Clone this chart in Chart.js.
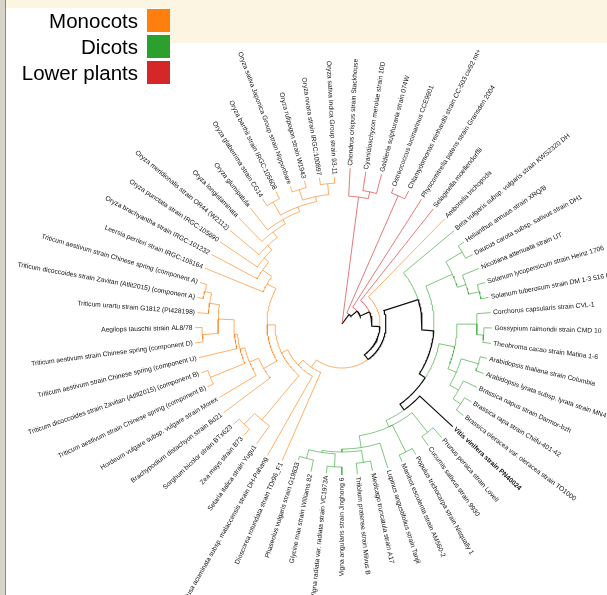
<!DOCTYPE html>
<html><head><meta charset="utf-8">
<script src="https://cdn.jsdelivr.net/npm/chart.js@4"></script>
<style>
html,body{margin:0;padding:0;background:#fff;width:607px;height:595px;overflow:hidden;position:relative}
#strip{position:absolute;left:0;top:0;width:5px;height:595px;background:#d7d5c9;border-right:1px solid #8c8b5e}
#band1{position:absolute;left:6px;top:0;width:601px;height:8px;background:#fcf5e2}
#band2{position:absolute;left:160px;top:0;width:447px;height:43px;background:#fcf5e2}
canvas{position:absolute;left:0;top:0}
.lg{position:absolute;left:0;width:138px;text-align:right;font:20.5px 'Liberation Sans',Arial,sans-serif;color:#000;height:23px;line-height:24px}
.sw{position:absolute;left:147px;width:23px;height:23px}
</style></head>
<body>
<div id="strip"></div><div id="band1"></div><div id="band2"></div>
<canvas id="c" width="607" height="595"></canvas>
<div id="legend"></div>
<script>
// ---- data ----
const legendLabels = ["Monocots", "Dicots", "Lower plants"];
const legendColors = ["#ff7f0e", "#2ca02c", "#d62728"];
const branchColors = ["rgba(255,127,14,0.62)", "rgba(44,160,44,0.6)", "rgba(214,39,40,0.62)"];

const leafNames = [
"Chondrus crispus strain Stackhouse",
"Cyanidioschyzon merolae strain 10D",
"Galdieria sulphuraria strain 074W",
"Ostreococcus lucimarinus CCE9901",
"Chlamydomonas reinhardtii strain CC-503 cw92 mt+",
"Physcomitrella patens strain Gransden 2004",
"Selaginella moellendorffii",
"Amborella trichopoda",
"Beta vulgaris subsp. vulgaris strain KWS2320 DH",
"Helianthus annuus strain XRQ/B",
"Daucus carota subsp. sativus strain DH1",
"Nicotiana attenuata strain UT",
"Solanum lycopersicum strain Heinz 1706",
"Solanum tuberosum strain DM 1-3 516 R44",
"Corchorus capsularis strain CVL-1",
"Gossypium raimondii strain CMD 10",
"Theobroma cacao strain Matina 1-6",
"Arabidopsis thaliana strain Columbia",
"Arabidopsis lyrata subsp. lyrata strain MN47",
"Brassica napus strain Darmor-bzh",
"Brassica rapa strain Chiifu-401-42",
"Brassica oleracea var. oleracea strain TO1000",
"Vitis vinifera strain PN40024",
"Prunus persica strain Lovell",
"Cucumis sativus strain 9930",
"Populus trichocarpa strain Nisqually 1",
"Manihot esculenta strain AM560-2",
"Lupinus angustifolius strain Tanjil",
"Medicago truncatula strain A17",
"Trifolium pratense strain Milvus B",
"Vigna angularis strain Jinghong 6",
"Vigna radiata var. radiata strain VC1973A",
"Glycine max strain Williams 82",
"Phaseolus vulgaris strain G19833",
"Dioscorea rotundata strain TDr96_F1",
"Musa acuminata subsp. malaccensis strain DH-Pahang",
"Setaria italica strain Yugu1",
"Zea mays strain B73",
"Sorghum bicolor strain BTx623",
"Brachypodium distachyon strain Bd21",
"Hordeum vulgare subsp. vulgare strain Morex",
"Triticum aestivum strain Chinese spring (component B)",
"Triticum dicoccoides strain Zavitan (Atlit2015) (component B)",
"Triticum aestivum strain Chinese spring (component U)",
"Triticum aestivum strain Chinese spring (component D)",
"Aegilops tauschii strain AL8/78",
"Triticum urartu strain G1812 (PI428198)",
"Triticum dicoccoides strain Zavitan (Atlit2015) (component A)",
"Triticum aestivum strain Chinese spring (component A)",
"Leersia perrieri strain IRGC:105164",
"Oryza brachyantha strain IRGC:101232",
"Oryza punctata strain IRGC:105690",
"Oryza meridionalis strain OR44 (W2112)",
"Oryza longistaminata",
"Oryza glumipatula",
"Oryza glaberrima strain CG14",
"Oryza barthii strain IRGC:105608",
"Oryza sativa Japonica Group strain Nipponbare",
"Oryza rufipogon strain W1943",
"Oryza nivara strain IRGC:100897",
"Oryza sativa Indica Group strain 93-11"];

const leafGroup = ["L","L","L","L","L","L","L","M",
"D","D","D","D","D","D","D","D","D","D","D","D","D","D","D","D","D","D","D","D","D","D","D","D","D","D",
"M","M","M","M","M","M","M","M","M","M","M","M","M","M","M","M","M","M","M","M","M","M","M","M","M","M","M"];

// distance of each tip from the root (tree units)
const leafDepth = [156,154,155,145,149,148,147,147,
146,147,148,148,149,149,149,150,150,149,150,149,151,152,151,151,149,150,150,151,150,151,151,150,151,143,
149,151,147,149,148,148,143,148,149,147,148,147,145,147,148,148,148,147,146,148,148,148,148,147,148,148,147];

const highlightLeaf = 22;

// topology: leaves are indices into leafNames, ":n" = node distance from root
const cladeRhodophyta = "(0,(1,2):135):128";
const cladeChlorophyta = "(3,4):140";
const cladeAsterids = "((9,10):140,(11,(12,13):141):130):121";
const cladeMalvids = "((14,(15,16):142):135,((17,18):142,(19,(20,21):143):134):124):115";
const cladeFabids = "((23,24):138,(25,26):143,(27,((28,29):140,((30,31):143,(32,33):139):130):128):125):113";
const cladePACMAD = "(36,(37,38):140):125";
const cladeTriticeae = "(40,((41,42):142,(43,((44,45):140,(46,(47,48):141):134):124):108):105):100";
const cladeOryza = "(50,(51,(52,(53,(54,((55,56):140,((57,58):141,(59,60):141):130):125):120):115):108):102):96";

const topology =
 "(" + cladeRhodophyta + ",(" + cladeChlorophyta + ",(5,(6,(7,(" +
   "(8,(" + cladeAsterids + ",(" + cladeMalvids + ",(22," + cladeFabids + "):106):99):92):80," +
   "(34,(35,(" + cladePACMAD + ",((39," + cladeTriticeae + "):90,(49," + cladeOryza + "):85):75):67):60):53" +
 "):44):38):30):20):12):0";

// ---- build ----
const START_ANGLE = -87, STEP = 360 / leafNames.length;
const COLORS = {M: branchColors[0], D: branchColors[1], L: branchColors[2]};

function parse(s) {
  let i = 0;
  function node() {
    const n = {children: []};
    if (s[i] === '(') {
      i++; n.children.push(node());
      while (s[i] === ',') { i++; n.children.push(node()); }
      i++;
    } else {
      const j = i; while (/[0-9]/.test(s[i])) i++;
      n.leaf = +s.slice(j, i);
    }
    if (s[i] === ':') { i++; const j = i; while (/[0-9.]/.test(s[i])) i++; n.depth = +s.slice(j, i); }
    return n;
  }
  return node();
}
const tree = parse(topology);
const leaves = [];
function setup(n) {
  if (!n.children.length) {
    n.depth = leafDepth[n.leaf]; n.angle = START_ANGLE + n.leaf * STEP; n.leaves = [n.leaf]; leaves.push(n);
  } else {
    n.children.forEach(setup);
    n.angle = n.children.reduce((a, c) => a + c.angle, 0) / n.children.length;
    n.leaves = [].concat(...n.children.map(c => c.leaves));
  }
  n.onPath = n.leaves.includes(highlightLeaf);
  n.color = n.onPath ? '#111111' : COLORS[leafGroup[n.leaves[0]]];
}
setup(tree);

const rad = d => d * Math.PI / 180;
const pt = (r, a) => ({x: r * Math.cos(rad(a)), y: -r * Math.sin(rad(a))});
const datasets = [];
function walk(n) {
  n.children.forEach(c => {
    const pts = [];
    if (n.depth > 0) {
      const steps = Math.max(1, Math.ceil(Math.abs(c.angle - n.angle) / 1));
      for (let k = 0; k <= steps; k++) pts.push(pt(n.depth, n.angle + (c.angle - n.angle) * k / steps));
    } else pts.push(pt(0, c.angle));
    pts.push(pt(c.depth, c.angle));
    datasets.push({data: pts, borderColor: c.color, borderWidth: c.onPath ? 1.2 : 1,
      showLine: true, pointRadius: 0, fill: false, tension: 0});
    walk(c);
  });
}
walk(tree);

const labelPlugin = {
  id: 'leafLabels',
  afterDatasetsDraw(chart) {
    const ctx = chart.ctx, xs = chart.scales.x, ys = chart.scales.y;
    leaves.forEach(l => {
      const r = l.depth + 2.5;
      const p = pt(r, l.angle);
      const px = xs.getPixelForValue(p.x), py = ys.getPixelForValue(p.y);
      const norm = ((l.angle % 360) + 360) % 360;
      const right = norm < 90 || norm > 270;
      ctx.save();
      ctx.translate(px, py);
      ctx.rotate(right ? rad(l.angle) : rad(l.angle) + Math.PI);
      ctx.textAlign = right ? 'left' : 'right';
      ctx.textBaseline = 'middle';
      ctx.fillStyle = '#111';
      ctx.font = (l.leaf === highlightLeaf ? 'bold ' : '') + "6.7px 'Liberation Sans', Arial, sans-serif";
      ctx.fillText(leafNames[l.leaf], 0, 0);
      ctx.restore();
    });
  }
};

new Chart(document.getElementById('c'), {
  type: 'scatter',
  data: {datasets},
  options: {
    responsive: false, animation: false, devicePixelRatio: 1,
    layout: {padding: 0},
    plugins: {legend: {display: false}, tooltip: {enabled: false}},
    scales: {
      x: {type: 'linear', min: -342, max: 265, display: false},
      y: {type: 'linear', min: -271, max: 324, display: false}
    }
  },
  plugins: [labelPlugin]
});

// legend (HTML)
const lg = document.getElementById('legend');
legendLabels.forEach((t, i) => {
  const top = 9 + i * 26;
  const d = document.createElement('div'); d.className = 'lg'; d.style.top = top + 'px'; d.textContent = t; lg.appendChild(d);
  const s = document.createElement('div'); s.className = 'sw'; s.style.top = top + 'px'; s.style.background = legendColors[i]; lg.appendChild(s);
});
</script>
</body></html>
